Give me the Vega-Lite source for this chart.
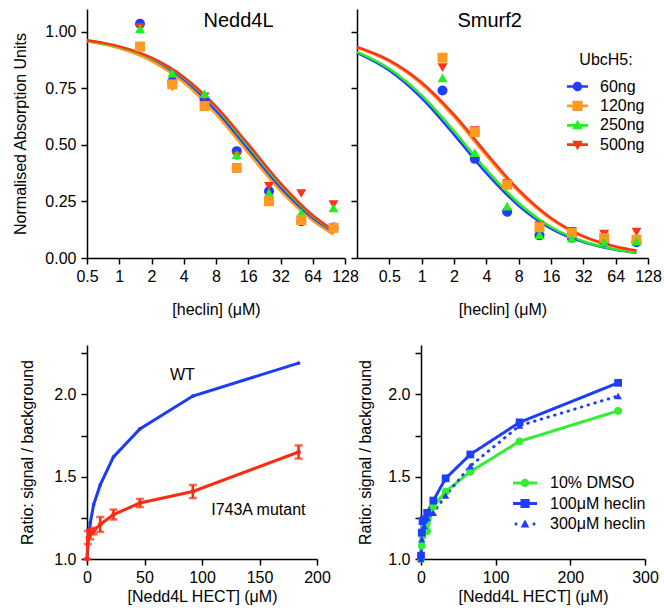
{
  "$schema": "https://vega.github.io/schema/vega-lite/v6.json",
  "padding": {"left": 12, "top": 9, "right": 4, "bottom": 4},
  "config": {
    "font": "Liberation Sans",
    "view": {"stroke": null},
    "axis": {"domainColor": "#000", "domainWidth": 1.5, "tickColor": "#000", "tickWidth": 1.5, "tickSize": 6, "labelFont": "Liberation Sans", "labelFontSize": 16, "labelColor": "#000", "labelPadding": 4, "titleFont": "Liberation Sans", "titleFontSize": 16, "titleFontWeight": "normal", "titleColor": "#000", "grid": false, "labelFlush": false, "labelOverlap": false},
    "legend": {"labelFont": "Liberation Sans", "labelFontSize": 16, "labelColor": "#000", "titleFont": "Liberation Sans", "titleFontSize": 16, "titleFontWeight": "normal", "titleColor": "#000"}
  },
  "datasets": {
    "nedd4l_fit": [
      {"series": "60ng", "conc": 0.5, "value": 0.959}, {"series": "60ng", "conc": 1, "value": 0.930}, {"series": "60ng", "conc": 2, "value": 0.877}, {"series": "60ng", "conc": 4, "value": 0.786}, {"series": "60ng", "conc": 8, "value": 0.650}, {"series": "60ng", "conc": 16, "value": 0.480}, {"series": "60ng", "conc": 32, "value": 0.310}, {"series": "60ng", "conc": 64, "value": 0.174}, {"series": "60ng", "conc": 100, "value": 0.111},
      {"series": "120ng", "conc": 0.5, "value": 0.957}, {"series": "120ng", "conc": 1, "value": 0.926}, {"series": "120ng", "conc": 2, "value": 0.870}, {"series": "120ng", "conc": 4, "value": 0.775}, {"series": "120ng", "conc": 8, "value": 0.635}, {"series": "120ng", "conc": 16, "value": 0.464}, {"series": "120ng", "conc": 32, "value": 0.296}, {"series": "120ng", "conc": 64, "value": 0.164}, {"series": "120ng", "conc": 100, "value": 0.103},
      {"series": "250ng", "conc": 0.5, "value": 0.961}, {"series": "250ng", "conc": 1, "value": 0.933}, {"series": "250ng", "conc": 2, "value": 0.883}, {"series": "250ng", "conc": 4, "value": 0.796}, {"series": "250ng", "conc": 8, "value": 0.664}, {"series": "250ng", "conc": 16, "value": 0.495}, {"series": "250ng", "conc": 32, "value": 0.324}, {"series": "250ng", "conc": 64, "value": 0.184}, {"series": "250ng", "conc": 100, "value": 0.118},
      {"series": "500ng", "conc": 0.5, "value": 0.962}, {"series": "500ng", "conc": 1, "value": 0.935}, {"series": "500ng", "conc": 2, "value": 0.885}, {"series": "500ng", "conc": 4, "value": 0.800}, {"series": "500ng", "conc": 8, "value": 0.670}, {"series": "500ng", "conc": 16, "value": 0.503}, {"series": "500ng", "conc": 32, "value": 0.331}, {"series": "500ng", "conc": 64, "value": 0.189}, {"series": "500ng", "conc": 100, "value": 0.122}
    ],
    "nedd4l_pts": [
      {"series": "60ng", "conc": 1.5625, "value": 1.035}, {"series": "60ng", "conc": 3.125, "value": 0.78}, {"series": "60ng", "conc": 6.25, "value": 0.70}, {"series": "60ng", "conc": 12.5, "value": 0.472}, {"series": "60ng", "conc": 25, "value": 0.295}, {"series": "60ng", "conc": 50, "value": 0.162}, {"series": "60ng", "conc": 100, "value": 0.135},
      {"series": "500ng", "conc": 1.5625, "value": 1.018}, {"series": "500ng", "conc": 3.125, "value": 0.757}, {"series": "500ng", "conc": 6.25, "value": 0.712}, {"series": "500ng", "conc": 12.5, "value": 0.45}, {"series": "500ng", "conc": 25, "value": 0.317}, {"series": "500ng", "conc": 50, "value": 0.285}, {"series": "500ng", "conc": 100, "value": 0.236},
      {"series": "250ng", "conc": 1.5625, "value": 1.013}, {"series": "250ng", "conc": 3.125, "value": 0.816}, {"series": "250ng", "conc": 6.25, "value": 0.726}, {"series": "250ng", "conc": 12.5, "value": 0.457}, {"series": "250ng", "conc": 25, "value": 0.288}, {"series": "250ng", "conc": 50, "value": 0.20}, {"series": "250ng", "conc": 100, "value": 0.221},
      {"series": "120ng", "conc": 1.5625, "value": 0.934}, {"series": "120ng", "conc": 3.125, "value": 0.767}, {"series": "120ng", "conc": 6.25, "value": 0.671}, {"series": "120ng", "conc": 12.5, "value": 0.398}, {"series": "120ng", "conc": 25, "value": 0.251}, {"series": "120ng", "conc": 50, "value": 0.167}, {"series": "120ng", "conc": 100, "value": 0.133}
    ],
    "smurf2_fit": [
      {"series": "60ng", "conc": 0.25, "value": 0.906}, {"series": "60ng", "conc": 0.5, "value": 0.828}, {"series": "60ng", "conc": 1, "value": 0.706}, {"series": "60ng", "conc": 2, "value": 0.545}, {"series": "60ng", "conc": 4, "value": 0.375}, {"series": "60ng", "conc": 8, "value": 0.231}, {"series": "60ng", "conc": 16, "value": 0.130}, {"series": "60ng", "conc": 32, "value": 0.070}, {"series": "60ng", "conc": 64, "value": 0.036}, {"series": "60ng", "conc": 100, "value": 0.023},
      {"series": "250ng", "conc": 0.25, "value": 0.911}, {"series": "250ng", "conc": 0.5, "value": 0.836}, {"series": "250ng", "conc": 1, "value": 0.718}, {"series": "250ng", "conc": 2, "value": 0.561}, {"series": "250ng", "conc": 4, "value": 0.389}, {"series": "250ng", "conc": 8, "value": 0.242}, {"series": "250ng", "conc": 16, "value": 0.137}, {"series": "250ng", "conc": 32, "value": 0.074}, {"series": "250ng", "conc": 64, "value": 0.038}, {"series": "250ng", "conc": 100, "value": 0.025},
      {"series": "120ng", "conc": 0.25, "value": 0.930}, {"series": "120ng", "conc": 0.5, "value": 0.868}, {"series": "120ng", "conc": 1, "value": 0.767}, {"series": "120ng", "conc": 2, "value": 0.623}, {"series": "120ng", "conc": 4, "value": 0.452}, {"series": "120ng", "conc": 8, "value": 0.292}, {"series": "120ng", "conc": 16, "value": 0.171}, {"series": "120ng", "conc": 32, "value": 0.093}, {"series": "120ng", "conc": 64, "value": 0.049}, {"series": "120ng", "conc": 100, "value": 0.032},
      {"series": "500ng", "conc": 0.25, "value": 0.932}, {"series": "500ng", "conc": 0.5, "value": 0.873}, {"series": "500ng", "conc": 1, "value": 0.775}, {"series": "500ng", "conc": 2, "value": 0.633}, {"series": "500ng", "conc": 4, "value": 0.463}, {"series": "500ng", "conc": 8, "value": 0.301}, {"series": "500ng", "conc": 16, "value": 0.177}, {"series": "500ng", "conc": 32, "value": 0.097}, {"series": "500ng", "conc": 64, "value": 0.051}, {"series": "500ng", "conc": 100, "value": 0.033}
    ],
    "smurf2_pts": [
      {"series": "60ng", "conc": 1.5625, "value": 0.740}, {"series": "60ng", "conc": 3.125, "value": 0.438}, {"series": "60ng", "conc": 6.25, "value": 0.204}, {"series": "60ng", "conc": 12.5, "value": 0.10}, {"series": "60ng", "conc": 25, "value": 0.09}, {"series": "60ng", "conc": 50, "value": 0.07}, {"series": "60ng", "conc": 100, "value": 0.07},
      {"series": "500ng", "conc": 1.5625, "value": 0.841}, {"series": "500ng", "conc": 3.125, "value": 0.563}, {"series": "500ng", "conc": 6.25, "value": 0.33}, {"series": "500ng", "conc": 12.5, "value": 0.143}, {"series": "500ng", "conc": 25, "value": 0.118}, {"series": "500ng", "conc": 50, "value": 0.106}, {"series": "500ng", "conc": 100, "value": 0.115},
      {"series": "120ng", "conc": 1.5625, "value": 0.885}, {"series": "120ng", "conc": 3.125, "value": 0.556}, {"series": "120ng", "conc": 6.25, "value": 0.324}, {"series": "120ng", "conc": 12.5, "value": 0.136}, {"series": "120ng", "conc": 25, "value": 0.11}, {"series": "120ng", "conc": 50, "value": 0.088}, {"series": "120ng", "conc": 100, "value": 0.081},
      {"series": "250ng", "conc": 1.5625, "value": 0.796}, {"series": "250ng", "conc": 3.125, "value": 0.465}, {"series": "250ng", "conc": 6.25, "value": 0.229}, {"series": "250ng", "conc": 12.5, "value": 0.103}, {"series": "250ng", "conc": 25, "value": 0.088}, {"series": "250ng", "conc": 50, "value": 0.07}, {"series": "250ng", "conc": 100, "value": 0.074}
    ],
    "bl_wt": [
      {"conc": 0, "value": 1.0}, {"conc": 1.4375, "value": 1.14}, {"conc": 2.875, "value": 1.22}, {"conc": 5.75, "value": 1.33}, {"conc": 11.5, "value": 1.45}, {"conc": 23, "value": 1.62}, {"conc": 46, "value": 1.79}, {"conc": 92, "value": 1.99}, {"conc": 184, "value": 2.19}
    ],
    "bl_mut": [
      {"conc": 0, "value": 1.0, "err": 0}, {"conc": 0.72, "value": 1.13, "err": 0.04}, {"conc": 2.875, "value": 1.15, "err": 0.03}, {"conc": 5.75, "value": 1.17, "err": 0.02}, {"conc": 11.5, "value": 1.21, "err": 0.045}, {"conc": 23, "value": 1.27, "err": 0.03}, {"conc": 46, "value": 1.34, "err": 0.025}, {"conc": 92, "value": 1.41, "err": 0.04}, {"conc": 184, "value": 1.65, "err": 0.04}
    ],
    "br": [
      {"series": "10% DMSO", "conc": 0, "value": 1.0}, {"series": "10% DMSO", "conc": 1.03, "value": 1.08}, {"series": "10% DMSO", "conc": 2.06, "value": 1.14}, {"series": "10% DMSO", "conc": 4.125, "value": 1.19}, {"series": "10% DMSO", "conc": 8.25, "value": 1.17}, {"series": "10% DMSO", "conc": 16.5, "value": 1.32}, {"series": "10% DMSO", "conc": 33, "value": 1.41}, {"series": "10% DMSO", "conc": 66, "value": 1.53}, {"series": "10% DMSO", "conc": 132, "value": 1.715}, {"series": "10% DMSO", "conc": 264, "value": 1.90},
      {"series": "300μM heclin", "conc": 0, "value": 1.0}, {"series": "300μM heclin", "conc": 1.03, "value": 1.12}, {"series": "300μM heclin", "conc": 2.06, "value": 1.18}, {"series": "300μM heclin", "conc": 4.125, "value": 1.20}, {"series": "300μM heclin", "conc": 8.25, "value": 1.25}, {"series": "300μM heclin", "conc": 16.5, "value": 1.28}, {"series": "300μM heclin", "conc": 33, "value": 1.385}, {"series": "300μM heclin", "conc": 66, "value": 1.565}, {"series": "300μM heclin", "conc": 132, "value": 1.81}, {"series": "300μM heclin", "conc": 264, "value": 1.99},
      {"series": "100μM heclin", "conc": 0, "value": 1.02}, {"series": "100μM heclin", "conc": 1.03, "value": 1.16}, {"series": "100μM heclin", "conc": 2.06, "value": 1.23}, {"series": "100μM heclin", "conc": 4.125, "value": 1.24}, {"series": "100μM heclin", "conc": 8.25, "value": 1.28}, {"series": "100μM heclin", "conc": 16.5, "value": 1.355}, {"series": "100μM heclin", "conc": 33, "value": 1.49}, {"series": "100μM heclin", "conc": 66, "value": 1.635}, {"series": "100μM heclin", "conc": 132, "value": 1.83}, {"series": "100μM heclin", "conc": 264, "value": 2.07}
    ]
  },
  "spacing": 28,
  "resolve": {"scale": {"color": "independent", "shape": "independent", "strokeDash": "independent"}, "legend": {"color": "independent", "shape": "independent", "strokeDash": "independent"}},
  "vconcat": [
    {
      "spacing": 12,
      "bounds": "flush",
      "resolve": {"scale": {"color": "independent", "shape": "independent"}, "legend": {"color": "independent", "shape": "independent"}},
      "hconcat": [
        {
          "width": 258, "height": 249,
          "layer": [
            {
              "data": {"name": "nedd4l_fit"},
              "mark": {"type": "line", "strokeWidth": 2.5, "interpolate": "monotone"},
              "encoding": {
                "x": {"field": "conc", "type": "quantitative", "scale": {"type": "log", "base": 2, "domain": [0.5, 128]}, "axis": {"values": [0.5, 1, 2, 4, 8, 16, 32, 64, 128], "format": "~g", "title": "[heclin] (μM)", "titlePadding": 17}},
                "y": {"field": "value", "type": "quantitative", "scale": {"domain": [0, 1.1]}, "axis": {"values": [0, 0.25, 0.5, 0.75, 1], "format": ".2f", "title": "Normalised Absorption Units", "titlePadding": 16, "labelPadding": 5}},
                "color": {"field": "series", "type": "nominal", "scale": {"domain": ["60ng", "120ng", "250ng", "500ng"], "range": ["#1f3cff", "#ff9922", "#22ee22", "#ff3319"]}, "legend": null}
              }
            },
            {
              "data": {"name": "nedd4l_pts"},
              "mark": {"type": "point", "filled": true, "size": 100, "opacity": 1},
              "encoding": {
                "x": {"field": "conc", "type": "quantitative"},
                "y": {"field": "value", "type": "quantitative"},
                "color": {"field": "series", "type": "nominal", "legend": null},
                "shape": {"field": "series", "type": "nominal", "scale": {"domain": ["60ng", "120ng", "250ng", "500ng"], "range": ["circle", "square", "triangle-up", "triangle-down"]}, "legend": null}
              }
            },
            {
              "data": {"values": [{"label": "Nedd4L", "conc": 13, "value": 1.045}]},
              "mark": {"type": "text", "fontSize": 20, "baseline": "middle", "align": "center", "color": "#000"},
              "encoding": {
                "x": {"field": "conc", "type": "quantitative"},
                "y": {"field": "value", "type": "quantitative"},
                "text": {"field": "label"}
              }
            }
          ]
        },
        {
          "width": 291, "height": 249,
          "layer": [
            {
              "data": {"name": "smurf2_fit"},
              "mark": {"type": "line", "strokeWidth": 2.5, "interpolate": "monotone"},
              "encoding": {
                "x": {"field": "conc", "type": "quantitative", "scale": {"type": "log", "base": 2, "domain": [0.25, 128]}, "axis": {"values": [0.5, 1, 2, 4, 8, 16, 32, 64, 128], "format": "~g", "title": "[heclin] (μM)", "titlePadding": 17}},
                "y": {"field": "value", "type": "quantitative", "scale": {"domain": [0, 1.1]}, "axis": {"values": [0, 0.25, 0.5, 0.75, 1], "labels": false, "title": null}},
                "color": {"field": "series", "type": "nominal", "scale": {"domain": ["60ng", "120ng", "250ng", "500ng"], "range": ["#1f3cff", "#ff9922", "#22ee22", "#ff3319"]}, "legend": {"title": "UbcH5:", "orient": "none", "legendX": 210, "legendY": 43, "symbolSize": 441, "symbolStrokeWidth": 0, "labelOffset": 12, "rowPadding": 0.4, "titleAnchor": "middle", "titlePadding": 8, "labelExpr": "datum.label == '60ng' ? '\u200760ng' : datum.label", "encode": {"symbols": {"update": {"shape": {"signal": "datum.value == '60ng' ? 'M-1,-0.13H1V0.13H-1Z M0.45,0A0.45,0.45,0,1,1,-0.45,0A0.45,0.45,0,1,1,0.45,0Z' : datum.value == '120ng' ? 'M-1,-0.13H1V0.13H-1Z M-0.48,-0.48H0.48V0.48H-0.48Z' : datum.value == '250ng' ? 'M-1,-0.13H1V0.13H-1Z M0,-0.52L0.5,0.38H-0.5Z' : 'M-1,-0.13H1V0.13H-1Z M0,0.52L-0.5,-0.38H0.5Z'"}}}}}}
              }
            },
            {
              "data": {"name": "smurf2_pts"},
              "transform": [{"filter": "datum.series == '60ng'"}],
              "mark": {"type": "point", "filled": true, "size": 100, "opacity": 1, "shape": "circle"},
              "encoding": {
                "x": {"field": "conc", "type": "quantitative"},
                "y": {"field": "value", "type": "quantitative"},
                "color": {"field": "series", "type": "nominal"}
              }
            },
            {
              "data": {"name": "smurf2_pts"},
              "transform": [{"filter": "datum.series == '500ng'"}],
              "mark": {"type": "point", "filled": true, "size": 100, "opacity": 1, "shape": "triangle-down"},
              "encoding": {
                "x": {"field": "conc", "type": "quantitative"},
                "y": {"field": "value", "type": "quantitative"},
                "color": {"field": "series", "type": "nominal"}
              }
            },
            {
              "data": {"name": "smurf2_pts"},
              "transform": [{"filter": "datum.series == '120ng'"}],
              "mark": {"type": "point", "filled": true, "size": 100, "opacity": 1, "shape": "square"},
              "encoding": {
                "x": {"field": "conc", "type": "quantitative"},
                "y": {"field": "value", "type": "quantitative"},
                "color": {"field": "series", "type": "nominal"}
              }
            },
            {
              "data": {"name": "smurf2_pts"},
              "transform": [{"filter": "datum.series == '250ng'"}],
              "mark": {"type": "point", "filled": true, "size": 100, "opacity": 1, "shape": "triangle-up"},
              "encoding": {
                "x": {"field": "conc", "type": "quantitative"},
                "y": {"field": "value", "type": "quantitative"},
                "color": {"field": "series", "type": "nominal"}
              }
            },
            {
              "data": {"values": [{"label": "Smurf2", "conc": 4.3, "value": 1.045}]},
              "mark": {"type": "text", "fontSize": 20, "baseline": "middle", "align": "center", "color": "#000"},
              "encoding": {
                "x": {"field": "conc", "type": "quantitative"},
                "y": {"field": "value", "type": "quantitative"},
                "text": {"field": "label"}
              }
            }
          ]
        }
      ]
    },
    {
      "spacing": 104,
      "bounds": "flush",
      "resolve": {"scale": {"color": "independent", "shape": "independent", "strokeDash": "independent"}, "legend": {"color": "independent", "shape": "independent", "strokeDash": "independent"}},
      "hconcat": [
        {
          "width": 230, "height": 214,
          "layer": [
            {
              "data": {"name": "bl_wt"},
              "mark": {"type": "line", "strokeWidth": 3, "color": "#1a3cf5"},
              "encoding": {
                "x": {"field": "conc", "type": "quantitative", "scale": {"domain": [0, 200]}, "axis": {"values": [0, 25, 50, 75, 100, 125, 150, 175, 200], "labelExpr": "datum.value % 50 == 0 ? datum.label : ''", "title": "[Nedd4L HECT] (μM)", "titlePadding": 3}},
                "y": {"field": "value", "type": "quantitative", "scale": {"domain": [1, 2.25]}, "axis": {"values": [1, 1.25, 1.5, 1.75, 2, 2.25], "labelExpr": "datum.value % 0.5 == 0 ? format(datum.value, '.1f') : ''", "title": "Ratio: signal / background", "titlePadding": 18, "labelPadding": 5}}
              }
            },
            {
              "data": {"name": "bl_wt"},
              "mark": {"type": "point", "filled": true, "size": 14, "opacity": 1, "color": "#1a3cf5"},
              "encoding": {
                "x": {"field": "conc", "type": "quantitative"},
                "y": {"field": "value", "type": "quantitative"}
              }
            },
            {
              "data": {"name": "bl_mut"},
              "mark": {"type": "line", "strokeWidth": 3, "color": "#ff2b10"},
              "encoding": {
                "x": {"field": "conc", "type": "quantitative"},
                "y": {"field": "value", "type": "quantitative"}
              }
            },
            {
              "data": {"name": "bl_mut"},
              "mark": {"type": "errorbar", "ticks": {"size": 8, "thickness": 2.5, "color": "#ff2b10"}, "thickness": 2.5, "color": "#ff2b10"},
              "encoding": {
                "x": {"field": "conc", "type": "quantitative"},
                "y": {"field": "value", "type": "quantitative", "title": "Ratio: signal / background"},
                "yError": {"field": "err"}
              }
            },
            {
              "data": {"name": "bl_mut"},
              "mark": {"type": "point", "filled": true, "size": 22, "opacity": 1, "color": "#ff2b10"},
              "encoding": {
                "x": {"field": "conc", "type": "quantitative"},
                "y": {"field": "value", "type": "quantitative"}
              }
            },
            {
              "data": {"values": [{"label": "WT", "conc": 83, "value": 2.12}, {"label": "I743A mutant", "conc": 149, "value": 1.30}]},
              "mark": {"type": "text", "fontSize": 16, "baseline": "middle", "align": "center", "color": "#000"},
              "encoding": {
                "x": {"field": "conc", "type": "quantitative"},
                "y": {"field": "value", "type": "quantitative"},
                "text": {"field": "label"}
              }
            }
          ]
        },
        {
          "width": 224, "height": 214,
          "layer": [
            {
              "data": {"name": "br"},
              "mark": {"type": "line", "strokeWidth": 3, "strokeCap": "round"},
              "encoding": {
                "x": {"field": "conc", "type": "quantitative", "scale": {"domain": [0, 300]}, "axis": {"values": [0, 50, 100, 150, 200, 250, 300], "labelExpr": "datum.value % 100 == 0 ? datum.label : ''", "title": "[Nedd4L HECT] (μM)", "titlePadding": 3}},
                "y": {"field": "value", "type": "quantitative", "scale": {"domain": [1, 2.25]}, "axis": {"values": [1, 1.25, 1.5, 1.75, 2, 2.25], "labelExpr": "datum.value % 0.5 == 0 ? format(datum.value, '.1f') : ''", "title": "Ratio: signal / background", "titlePadding": 14, "labelPadding": 5}},
                "color": {"field": "series", "type": "nominal", "scale": {"domain": ["10% DMSO", "100μM heclin", "300μM heclin"], "range": ["#33ee33", "#1f3cff", "#1f3cff"]}, "legend": {"title": null, "orient": "none", "legendX": 92, "legendY": 126, "symbolSize": 576, "symbolStrokeWidth": 0, "labelOffset": 13, "rowPadding": 0.5, "encode": {"symbols": {"update": {"shape": {"signal": "datum.value == '10% DMSO' ? 'M-1,-0.12H1V0.12H-1Z M0.35,0A0.35,0.35,0,1,1,-0.35,0A0.35,0.35,0,1,1,0.35,0Z' : datum.value == '100μM heclin' ? 'M-1,-0.12H1V0.12H-1Z M-0.38,-0.38H0.38V0.38H-0.38Z' : 'M-0.62,0A0.13,0.13,0,1,1,-0.88,0A0.13,0.13,0,1,1,-0.62,0Z M0.88,0A0.13,0.13,0,1,1,0.62,0A0.13,0.13,0,1,1,0.88,0Z M0,-0.38L0.36,0.3H-0.36Z'"}}}}}},
                "strokeDash": {"field": "series", "type": "nominal", "scale": {"domain": ["10% DMSO", "100μM heclin", "300μM heclin"], "range": [[1, 0], [1, 0], [0.5, 6.5]]}, "legend": null}
              }
            },
            {
              "data": {"name": "br"},
              "transform": [{"filter": "datum.series == '10% DMSO'"}],
              "mark": {"type": "point", "filled": true, "size": 60, "opacity": 1, "shape": "circle"},
              "encoding": {
                "x": {"field": "conc", "type": "quantitative"},
                "y": {"field": "value", "type": "quantitative"},
                "color": {"field": "series", "type": "nominal"}
              }
            },
            {
              "data": {"name": "br"},
              "transform": [{"filter": "datum.series == '300μM heclin'"}],
              "mark": {"type": "point", "filled": true, "size": 55, "opacity": 1, "shape": "triangle-up"},
              "encoding": {
                "x": {"field": "conc", "type": "quantitative"},
                "y": {"field": "value", "type": "quantitative"},
                "color": {"field": "series", "type": "nominal"}
              }
            },
            {
              "data": {"name": "br"},
              "transform": [{"filter": "datum.series == '100μM heclin'"}],
              "mark": {"type": "point", "filled": true, "size": 60, "opacity": 1, "shape": "square"},
              "encoding": {
                "x": {"field": "conc", "type": "quantitative"},
                "y": {"field": "value", "type": "quantitative"},
                "color": {"field": "series", "type": "nominal"}
              }
            }
          ]
        }
      ]
    }
  ]
}
